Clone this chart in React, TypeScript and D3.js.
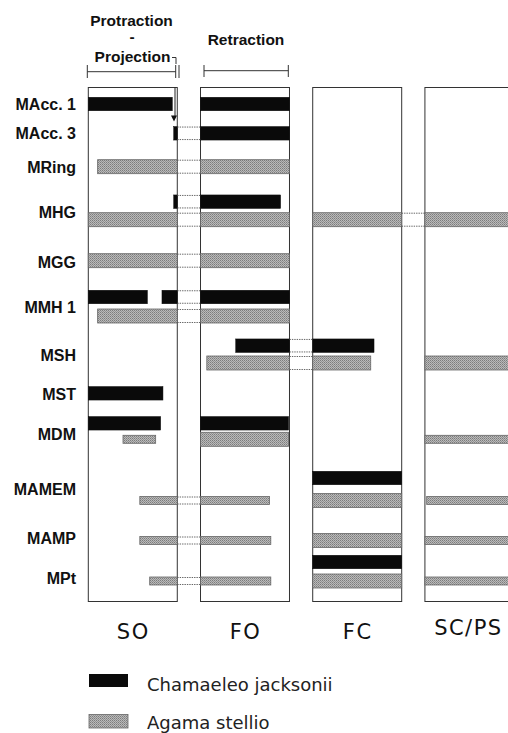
import React from "react";
import * as d3 from "d3";

// ---------- data ----------
const phases = ["SO", "FO", "FC", "SC/PS"];
const muscles = ["MAcc. 1", "MAcc. 3", "MRing", "MHG", "MGG", "MMH 1", "MSH", "MST", "MDM", "MAMEM", "MAMP", "MPt"];

// activity intervals on a continuous phase axis (0..4: SO, FO, FC, SC/PS)
// [muscle, start, end]
const chamaeleo: [string, number, number][] = [
  ["MAcc. 1", 0, 0.944],
  ["MAcc. 1", 1, 2],
  ["MAcc. 3", 0.96, 2],
  ["MHG", 0.96, 1.9],
  ["MMH 1", 0, 0.664],
  ["MMH 1", 0.828, 2],
  ["MSH", 1.396, 2.689],
  ["MST", 0, 0.839],
  ["MDM", 0, 0.813],
  ["MDM", 1, 1.99],
  ["MAMEM", 2, 3],
  ["MPt", 2, 3],
];

// [muscle, start, end, level (1 = strong, 0.5 = weak)]
const agama: [string, number, number, number][] = [
  ["MRing", 0.105, 2, 1],
  ["MHG", 0, 2, 1],
  ["MHG", 2, 4, 1],
  ["MGG", 0, 2, 1],
  ["MMH 1", 0.105, 2, 1],
  ["MSH", 1.071, 2.652, 1],
  ["MSH", 3, 4, 1],
  ["MDM", 0.39, 0.757, 0.5],
  ["MDM", 1, 1.99, 1],
  ["MDM", 3, 4, 0.5],
  ["MAMEM", 0.579, 1.776, 0.5],
  ["MAMEM", 2, 3, 1],
  ["MAMEM", 3.02, 4, 0.5],
  ["MAMP", 0.579, 1.79, 0.5],
  ["MAMP", 2, 3, 1],
  ["MAMP", 3, 4, 0.5],
  ["MPt", 0.69, 1.79, 0.5],
  ["MPt", 2, 3, 1],
  ["MPt", 3, 4, 0.5],
];

const legendItems = ["Chamaeleo jacksonii", "Agama stellio"];

// ---------- layout ----------
const W = 508;
const H = 733;
const TOP = 87.5;
const BOTTOM = 601.5;
const labelY = [104.5, 133.8, 167.5, 212.5, 262.5, 307.5, 355.8, 394, 434, 489, 538.5, 578.7];
const blackLaneY: Record<string, number> = {
  "MAcc. 1": 104, "MAcc. 3": 133.3, MHG: 201.7, "MMH 1": 297, MSH: 345.7, MST: 393.3, MDM: 423.3, MAMEM: 478, MPt: 562,
};
const grayLaneY: Record<string, number> = {
  MRing: 166.7, MHG: 219.7, MGG: 260.7, "MMH 1": 316, MSH: 363, MDM: 439.3, MAMEM: 500.5, MAMP: 540.5, MPt: 581,
};

const xBand = d3.scaleBand<string>().domain(phases).range([88.3, 513.9]).paddingInner(0.207);
const bw = xBand.bandwidth();
const labelScale = d3.scaleOrdinal<string, number>().domain(muscles).range(labelY);

function xIn(i: number, f: number) {
  return (xBand(phases[i]) as number) + f * bw;
}

type Seg = { x0: number; x1: number };
function segments(a: number, b: number): { segs: Seg[]; gaps: Seg[] } {
  const segs: Seg[] = [];
  const gaps: Seg[] = [];
  for (let i = 0; i < phases.length; i++) {
    const s = Math.max(a, i);
    const e = Math.min(b, i + 1);
    if (e - s > 1e-6) segs.push({ x0: xIn(i, s - i), x1: xIn(i, e - i) });
  }
  for (let k = 1; k < phases.length; k++) {
    if (a < k && b > k) gaps.push({ x0: xIn(k - 1, 1), x1: xIn(k, 0) });
  }
  return { segs, gaps };
}

function Bar({ a, b, yc, h, gray }: { a: number; b: number; yc: number; h: number; gray: boolean }) {
  const { segs, gaps } = segments(a, b);
  const y0 = yc - h / 2;
  return (
    <g>
      {segs.map((s, i) => (
        <rect
          key={"s" + i}
          x={s.x0}
          y={y0}
          width={s.x1 - s.x0}
          height={h}
          fill={gray ? "url(#stipple)" : "#0a0a0a"}
          stroke={gray ? "#666" : "#0a0a0a"}
          strokeWidth={gray ? 0.8 : 0.5}
        />
      ))}
      {gaps.map((g, i) => (
        <g key={"g" + i} stroke="#555" strokeWidth={0.9} strokeDasharray="1.4,1">
          <line x1={g.x0} x2={g.x1} y1={y0 + 0.5} y2={y0 + 0.5} />
          <line x1={g.x0} x2={g.x1} y1={y0 + h - 0.5} y2={y0 + h - 0.5} />
        </g>
      ))}
    </g>
  );
}

export default function App() {
  const boldFont = "'Liberation Sans', Arial, sans-serif";
  const lightFont = "'DejaVu Sans', sans-serif";
  return (
    <svg width={W} height={H} style={{ position: "absolute", left: 0, top: 0, background: "#fff" }}>
      <defs>
        <pattern id="stipple" width={2} height={2} patternUnits="userSpaceOnUse">
          <rect width={2} height={2} fill="#bababa" />
          <rect x={0} y={0} width={1} height={1} fill="#7c7c7c" />
          <rect x={1} y={1} width={1} height={1} fill="#929292" />
        </pattern>
      </defs>

      {/* header */}
      <g fontFamily={boldFont} fontWeight="bold" fontSize={15.5} fill="#111" textAnchor="middle">
        <text x={131.5} y={26}>Protraction</text>
        <text x={132} y={42}>-</text>
        <text x={132.5} y={62}>Projection</text>
        <text x={246} y={45}>Retraction</text>
      </g>
      <g stroke="#333" strokeWidth={1} fill="none">
        <line x1={87.3} x2={175.7} y1={71.7} y2={71.7} />
        <line x1={87.3} x2={87.3} y1={65} y2={78} />
        <line x1={175.7} x2={175.7} y1={65} y2={78} />
        <line x1={179} x2={179} y1={65} y2={78} />
        <path d="M172,57.5 L176,57.5 L176,64" />
        <line x1={204} x2={288.3} y1={70.7} y2={70.7} />
        <line x1={204} x2={204} y1={65} y2={77} />
        <line x1={288.3} x2={288.3} y1={65} y2={77} />
      </g>

      {/* panels */}
      {phases.map((p) => (
        <rect key={p} x={xBand(p)} y={TOP} width={bw} height={BOTTOM - TOP} fill="none" stroke="#333" strokeWidth={1} />
      ))}

      {/* bars */}
      {agama.map(([m, a, b, lvl], i) => (
        <Bar key={"a" + i} a={a} b={b} yc={grayLaneY[m]} h={lvl === 1 ? 14 : 8} gray={true} />
      ))}
      {chamaeleo.map(([m, a, b], i) => (
        <Bar key={"c" + i} a={a} b={b} yc={blackLaneY[m]} h={13.5} gray={false} />
      ))}

      {/* arrow */}
      <g stroke="#222" strokeWidth={1}>
        <line x1={175} x2={175} y1={TOP} y2={116} />
      </g>
      <path d="M171,115.5 L177,115.5 L174,121.5 Z" fill="#111" />

      {/* row labels */}
      <g fontFamily={boldFont} fontWeight="bold" fontSize={16} fill="#111" textAnchor="end">
        {muscles.map((m) => (
          <text key={m} x={76} y={labelScale(m)} dominantBaseline="central">{m}</text>
        ))}
      </g>

      {/* phase labels */}
      <g fontFamily={lightFont} fontSize={21} fill="#111" textAnchor="middle" letterSpacing={1.5}>
        {phases.map((p, i) => (
          <text key={p} x={(xBand(p) as number) + bw / 2 + (i === 3 ? -1 : 0.5)} y={i === 3 ? 635 : 639}>{p}</text>
        ))}
      </g>

      {/* legend */}
      <rect x={89} y={674} width={39} height={13} fill="#0a0a0a" />
      <rect x={89} y={714.5} width={39} height={13.5} fill="url(#stipple)" stroke="#666" strokeWidth={0.8} />
      <g fontFamily={lightFont} fontSize={18} fill="#222">
        <text x={147} y={690.5}>{legendItems[0]}</text>
        <text x={147} y={728.5}>{legendItems[1]}</text>
      </g>
    </svg>
  );
}
